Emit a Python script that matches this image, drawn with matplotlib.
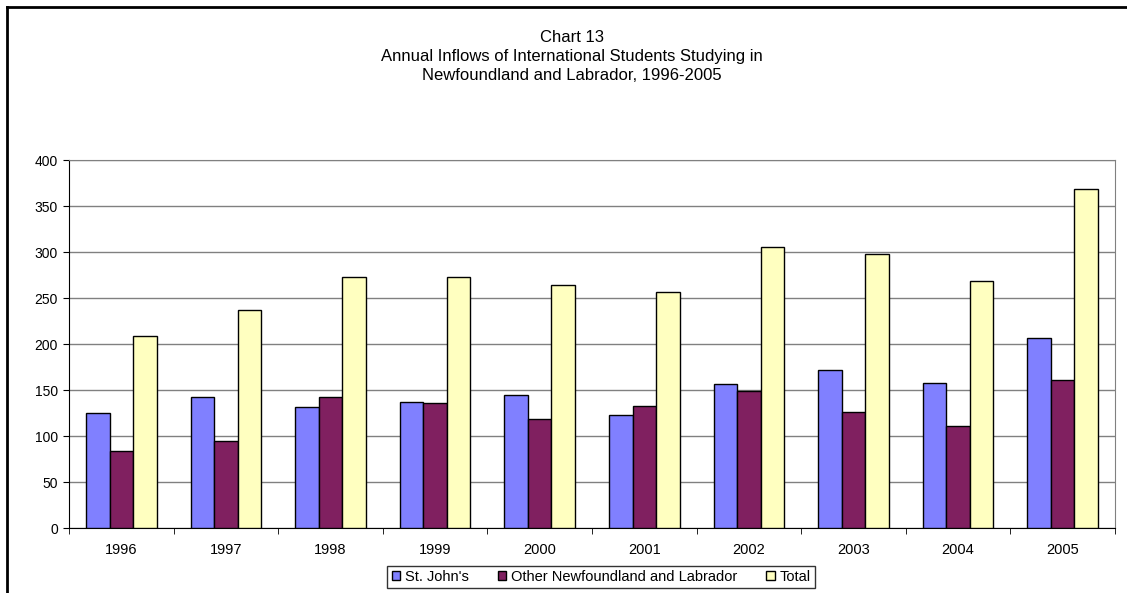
import matplotlib.pyplot as plt
import numpy as np

plt.rcParams['font.family'] = ['Liberation Sans', 'DejaVu Sans']

years = ["1996", "1997", "1998", "1999", "2000", "2001", "2002", "2003", "2004", "2005"]
st_johns = [125, 142, 131, 137, 145, 123, 156, 172, 158, 207]
other_nl = [84, 95, 142, 136, 119, 133, 149, 126, 111, 161]
total = [209, 237, 273, 273, 264, 256, 305, 298, 269, 368]

series = [
    ("St. John's", st_johns, "#8080FF"),
    ("Other Newfoundland and Labrador", other_nl, "#802060"),
    ("Total", total, "#FFFFC0"),
]

fig = plt.figure(figsize=(11.27, 5.93), dpi=100)
ax = fig.add_axes([69 / 1127, 1 - 528 / 593, 1046 / 1127, 368 / 593])

x = np.arange(len(years))
w = 0.225
for i, (name, vals, col) in enumerate(series):
    ax.bar(x + (i - 1) * w, vals, w, color=col, edgecolor="black", linewidth=1.0,
           label=name, zorder=3)

ax.set_xlim(-0.5, len(years) - 0.5)
ax.set_ylim(0, 400)
ax.set_yticks(range(0, 401, 50))
ax.yaxis.grid(True, color="#808080", linewidth=1.0, zorder=0)

ax.set_xticks(x)
ax.set_xticklabels(years, fontsize=10.5)
ax.tick_params(axis="x", length=0, pad=11)
ax.set_xticks(np.arange(-0.5, len(years)), minor=True)
ax.tick_params(axis="x", which="minor", length=4, direction="out", color="black")
ax.tick_params(axis="y", labelsize=10, length=4, direction="out", pad=4)

for side in ("top", "right"):
    ax.spines[side].set_color("#808080")
for side in ("left", "bottom"):
    ax.spines[side].set_color("black")

title_lines = ["Chart 13",
               "Annual Inflows of International Students Studying in",
               "Newfoundland and Labrador, 1996-2005"]
for k, line in enumerate(title_lines):
    fig.text(572 / 1127, 1 - (38 + 19 * k) / 593, line, ha="center", va="center",
             fontsize=12)

leg = fig.legend(loc="center", bbox_to_anchor=(601 / 1127, 1 - 577 / 593), ncol=3,
                 fontsize=10.5, frameon=True, fancybox=False, edgecolor="black",
                 handlelength=0.6, handleheight=0.6, handletextpad=0.3,
                 columnspacing=2.0, borderpad=0.3, borderaxespad=0)
leg.get_frame().set_linewidth(1.0)

# outer chart border on the left and top
fig.add_artist(plt.Line2D([7 / 1127, 7 / 1127], [0, 1 - 7 / 593], color="black",
                          linewidth=2, transform=fig.transFigure))
fig.add_artist(plt.Line2D([7 / 1127, 1], [1 - 7 / 593, 1 - 7 / 593], color="black",
                          linewidth=2, transform=fig.transFigure))

fig.savefig("out.png", dpi=100)
